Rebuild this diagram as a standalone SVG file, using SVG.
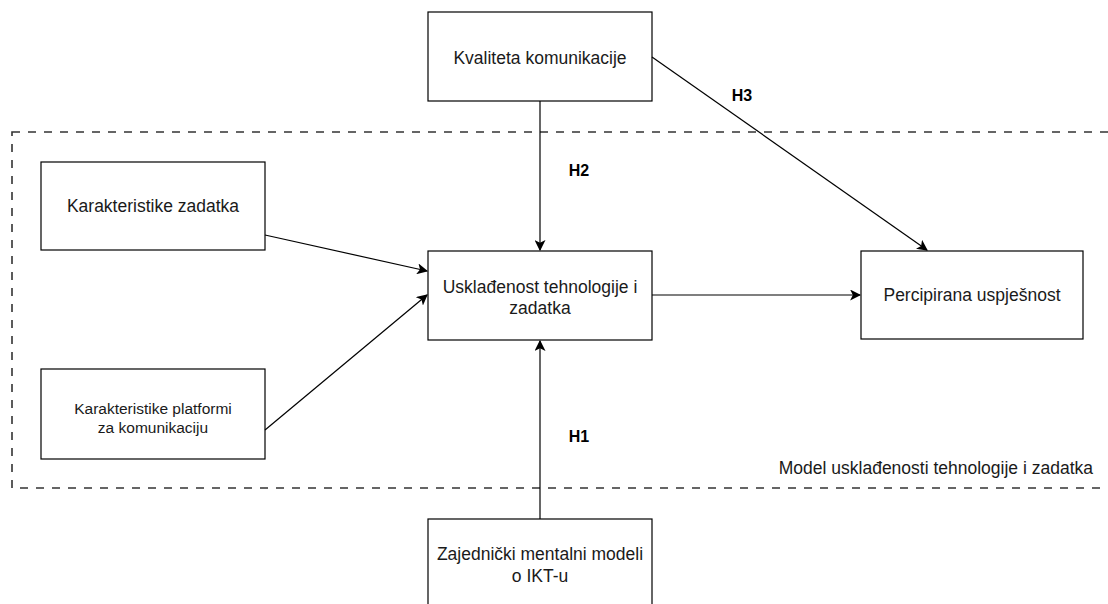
<svg xmlns="http://www.w3.org/2000/svg" width="1108" height="604" viewBox="0 0 1108 604">
<style>
.box{fill:#fff;stroke:#000;stroke-width:1.2}
.t{font-family:"Liberation Sans",Arial,sans-serif;font-size:17.5px;fill:#1a1a1a;text-anchor:middle}
.ts{font-size:15.5px}
.h{font-family:"Liberation Sans",Arial,sans-serif;font-size:16px;font-weight:bold;fill:#000;text-anchor:middle}
.c{fill:none;stroke:#000;stroke-width:1.2;marker-end:url(#a)}
</style>
<defs>
<marker id="a" viewBox="0 0 10 10" refX="9" refY="5" markerWidth="11" markerHeight="11" markerUnits="userSpaceOnUse" orient="auto">
<path d="M0,0 L10,5 L0,10 L2.5,5 Z" fill="#000"/>
</marker>
</defs>
<g id="frame">
<rect x="12" y="132" width="1110" height="356" fill="none" stroke="#333" stroke-width="1.6" stroke-dasharray="8 8"/>
<text class="t" x="1093" y="474" style="text-anchor:end">Model usklađenosti tehnologije i zadatka</text>
</g>
<g id="n-kvaliteta"><rect class="box" x="428" y="12" width="224" height="89"/><text class="t" x="540" y="64">Kvaliteta komunikacije</text></g>
<g id="n-zadatak"><rect class="box" x="41" y="162" width="224" height="88"/><text class="t" x="153" y="212">Karakteristike zadatka</text></g>
<g id="n-uskladenost"><rect class="box" x="428" y="251" width="224" height="89"/><text class="t" x="540" y="293">Usklađenost tehnologije i</text><text class="t" x="540" y="314">zadatka</text></g>
<g id="n-percipirana"><rect class="box" x="861" y="251" width="222" height="88"/><text class="t" x="972" y="301">Percipirana uspješnost</text></g>
<g id="n-platforme"><rect class="box" x="41" y="369" width="224" height="90"/><text class="t ts" x="153" y="414">Karakteristike platformi</text><text class="t ts" x="153" y="433">za komunikaciju</text></g>
<g id="n-zajednicki"><rect class="box" x="428" y="519" width="224" height="92"/><text class="t" x="540" y="560">Zajednički mentalni modeli</text><text class="t" x="540" y="582">o IKT-u</text></g>
<g id="connectors">
<path class="c" d="M540,101 L540,250"/>
<path class="c" d="M652,57 L927,250"/>
<path class="c" d="M265,235 L427,271"/>
<path class="c" d="M265,430 L427,295"/>
<path class="c" d="M652,295 L860,295"/>
<path class="c" d="M540,519 L540,341"/>
<text class="h" x="579" y="176">H2</text>
<text class="h" x="742" y="101">H3</text>
<text class="h" x="579" y="442">H1</text>
</g>
</svg>
